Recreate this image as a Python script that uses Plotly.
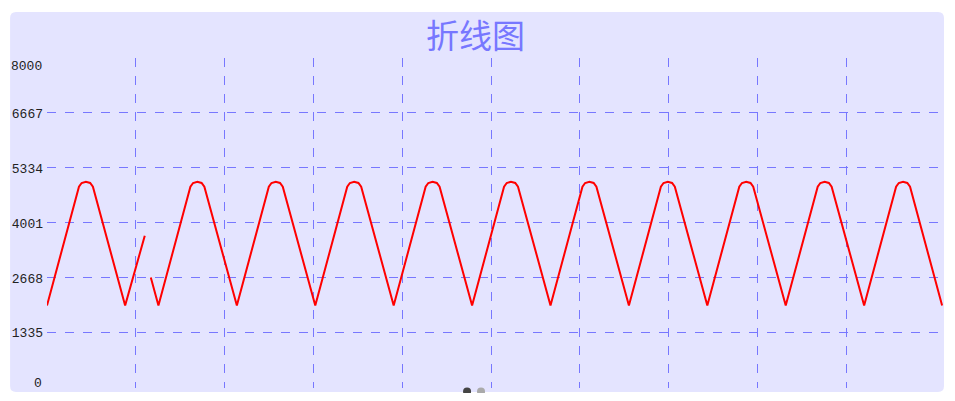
import plotly.graph_objects as go

# ---- data ----
title_text = "折线图"

# older part of the buffer (left of the gap)
seg1_t = [0, 3.60, 3.90, 4.38, 4.86, 5.17, 8.80, 11.01]
seg1_v = [2000, 4880, 4970, 5000, 4970, 4880, 2000, 3690]

# newer part of the buffer (right of the gap)
seg2_t = [11.69, 12.55,
          16.15, 16.45, 16.93, 17.41, 17.72, 21.38,
          24.98, 25.28, 25.76, 26.24, 26.55, 30.21,
          33.81, 34.11, 34.59, 35.07, 35.38, 39.04,
          42.64, 42.94, 43.42, 43.90, 44.21, 47.87,
          51.47, 51.77, 52.25, 52.73, 53.04, 56.70,
          60.30, 60.60, 61.08, 61.56, 61.87, 65.53,
          69.13, 69.43, 69.91, 70.39, 70.70, 74.36,
          77.96, 78.26, 78.74, 79.22, 79.53, 83.19,
          86.79, 87.09, 87.57, 88.05, 88.36, 92.02,
          95.62, 95.92, 96.40, 96.88, 97.19, 100.80]
seg2_v = [2680, 2000,
          4880, 4970, 5000, 4970, 4880, 2000,
          4880, 4970, 5000, 4970, 4880, 2000,
          4880, 4970, 5000, 4970, 4880, 2000,
          4880, 4970, 5000, 4970, 4880, 2000,
          4880, 4970, 5000, 4970, 4880, 2000,
          4880, 4970, 5000, 4970, 4880, 2000,
          4880, 4970, 5000, 4970, 4880, 2000,
          4880, 4970, 5000, 4970, 4880, 2000,
          4880, 4970, 5000, 4970, 4880, 2000,
          4880, 4970, 5000, 4970, 4880, 2000]

y_ticks = [1335, 2668, 4001, 5334, 6667]
y_tick_labels = ["1335", "2668", "4001", "5334", "6667"]
y_range = [0, 8000]
x_range = [0, 100.9]
x_grid = [10, 20, 30, 40, 50, 60, 70, 80, 90]

# ---- layout numbers (pixels inside the figure) ----
W, H = 939, 385
ML, MR, MT, MB = 37, 4, 50, 5
PW, PH = W - ML - MR, H - MT - MB

PANEL = "#E4E4FF"
GRID = "#7777FF"


def px_x(p):
    return (p - ML) / PW


def px_y(p):
    return (H - MB - p) / PH


def round_rect(x0, y0, x1, y1, r):
    # rounded rectangle path in paper coords, corners given in figure pixels
    pts = [
        ("M", x0 + r, y0), ("L", x1 - r, y0), ("Q", x1, y0, x1, y0 + r),
        ("L", x1, y1 - r), ("Q", x1, y1, x1 - r, y1),
        ("L", x0 + r, y1), ("Q", x0, y1, x0, y1 - r),
        ("L", x0, y0 + r), ("Q", x0, y0, x0 + r, y0),
    ]
    out = []
    for p in pts:
        cmd = p[0]
        nums = p[1:]
        s = []
        for i in range(0, len(nums), 2):
            s.append("%.5f,%.5f" % (px_x(nums[i]), px_y(nums[i + 1])))
        out.append(cmd + " ".join(s))
    return " ".join(out) + " Z"


fig = go.Figure()

fig.add_trace(go.Scatter(x=seg1_t, y=seg1_v, mode="lines",
                         line=dict(color="#FF0000", width=2),
                         showlegend=False, hoverinfo="skip"))
fig.add_trace(go.Scatter(x=seg2_t, y=seg2_v, mode="lines",
                         line=dict(color="#FF0000", width=2),
                         showlegend=False, hoverinfo="skip"))

shapes = []
# background panel
shapes.append(dict(type="path", xref="paper", yref="paper",
                   path=round_rect(0, 4, 936, 384, 6),
                   fillcolor=PANEL, line=dict(width=0), layer="below"))
# pager dots
for cx, col in [(458.0, "#444444"), (472.0, "#AAAAAA")]:
    shapes.append(dict(type="circle", xref="paper", yref="paper",
                       xsizemode="pixel", ysizemode="pixel",
                       xanchor=px_x(cx), yanchor=px_y(383.5),
                       x0=-4, x1=4, y0=-4, y1=4,
                       fillcolor=col, line=dict(width=0)))

tick_font = dict(family="Liberation Mono", size=13, color="#222222")

fig.update_layout(
    width=W, height=H,
    margin=dict(l=ML, r=MR, t=MT, b=MB),
    paper_bgcolor="white",
    plot_bgcolor="rgba(0,0,0,0)",
    xaxis=dict(range=x_range, tickvals=x_grid, showticklabels=False,
               showgrid=True, gridcolor=GRID, griddash="dash", gridwidth=1,
               zeroline=False, showline=False, ticks="", fixedrange=True),
    yaxis=dict(range=y_range, tickvals=y_ticks, ticktext=y_tick_labels,
               tickfont=tick_font, showgrid=True, gridcolor=GRID,
               griddash="dash", gridwidth=1, zeroline=False, showline=False,
               ticks="", ticklabelstandoff=3, fixedrange=True),
    shapes=shapes,
)

# title as a plain annotation over the panel
fig.add_annotation(x=px_x(466), xref="paper", xanchor="center",
                   y=px_y(26), yref="paper", yanchor="middle",
                   text=title_text, showarrow=False,
                   font=dict(family="Noto Sans CJK SC", size=33, color="#7777FF"))

# end labels sit slightly inside the axis range
fig.add_annotation(x=0, xref="paper", xanchor="right", xshift=-3,
                   y=y_range[1], yref="y", yshift=-8, text=str(y_range[1]),
                   showarrow=False, font=tick_font)
fig.add_annotation(x=0, xref="paper", xanchor="right", xshift=-3,
                   y=y_range[0], yref="y", yshift=5, text=str(y_range[0]),
                   showarrow=False, font=tick_font)

fig.write_html("out.html")
